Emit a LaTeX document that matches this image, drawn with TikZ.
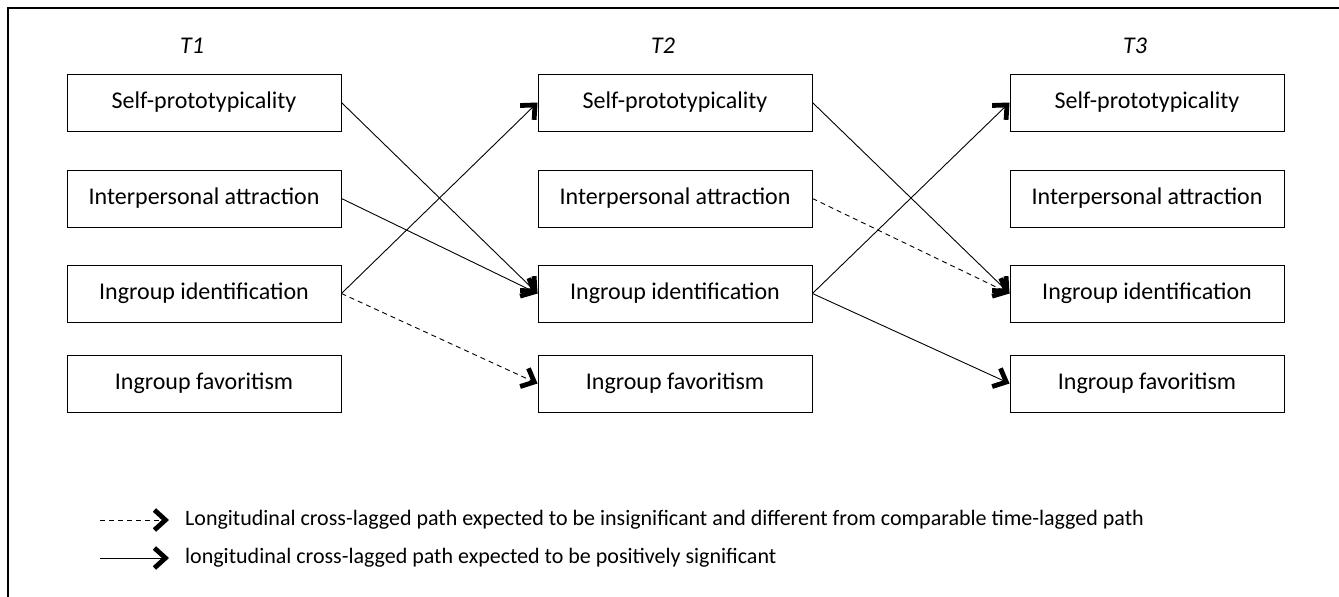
\documentclass[tikz,border=0pt]{standalone}
\usepackage{fontspec}
\setmainfont{Carlito}
\usetikzlibrary{arrows.meta}
\usetikzlibrary{positioning}
\tikzset{var/.style = {draw, line width=0.9pt, minimum width=274, minimum height=57, inner sep=0, font=\fontsize{24}{28}\selectfont}}
\tikzset{tlabel/.style = {font=\fontsize{24}{28}\selectfont\itshape}}
\tikzset{lag/.style = {line width=0.9pt, -{Straight Barb[length=11pt, width=20pt, line width=4.8pt]}}}
\tikzset{nslag/.style = {lag, dash pattern=on 5pt off 4pt}}
\tikzset{legend/.style = {anchor=west, inner sep=0, font=\fontsize{22}{26}\selectfont}}

\begin{document}
\begin{tikzpicture}[x=1pt, y=1pt]
    \useasboundingbox (0, 0) rectangle (1339, -597);
    \draw [line width=1.6pt] (8, -597) -- (8, -8) -- (1339, -8);
    \foreach \t/\s in {1/0, 2/471, 3/943} {
      \begin{scope}[xshift=\s]
        \node [tlabel] (t\t) at (192, -46) {T\t};
        \node [var] (self\t) at (204, -102.5) {Self-prototypicality};
        \node [var] (attr\t) at (204, -198.5) {Interpersonal attraction};
        \node [var] (iden\t) at (204, -293.5) {Ingroup identification};
        \node [var] (fav\t) at (204, -383.5) {Ingroup favoritism};
      \end{scope}
    }
    % T1 -> T2
    \draw [lag] (self1.east) -- (iden2.west);
    \draw [lag] (attr1.east) -- (iden2.west);
    \draw [lag] (iden1.east) -- (self2.west);
    \draw [nslag] (iden1.east) -- (fav2.west);
    % T2 -> T3
    \draw [lag] (self2.east) -- (iden3.west);
    \draw [nslag] (attr2.east) -- (iden3.west);
    \draw [lag] (iden2.east) -- (self3.west);
    \draw [lag] (iden2.east) -- (fav3.west);
    % legend
    \coordinate (ns0) at (100, -520);
    \coordinate (ns1) at (169, -520);
    \coordinate (ps0) at (100, -558);
    \coordinate (ps1) at (169, -558);
    \draw [nslag] (ns0) -- (ns1);
    \draw [lag] (ps0) -- (ps1);
    \node [legend] (nstext) at (185, -520) {Longitudinal cross-lagged path expected to be insignificant and different from comparable time-lagged path};
    \node [legend] (pstext) at (185, -558) {longitudinal cross-lagged path expected to be positively significant};
  \end{tikzpicture}
\end{document}
